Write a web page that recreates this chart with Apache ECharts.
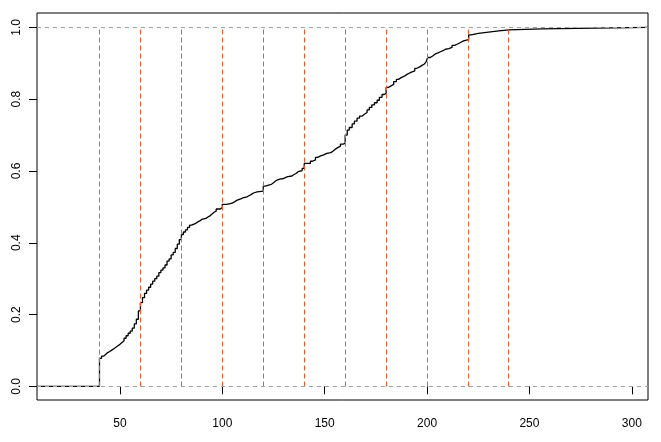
<!DOCTYPE html>
<html>
<head>
<meta charset="utf-8">
<script src="https://cdn.jsdelivr.net/npm/echarts@6/dist/echarts.min.js"></script>
<style>
html,body{margin:0;padding:0;background:#fff;}
#chart{width:661px;height:442px;}
</style>
</head>
<body>
<div id="chart"></div>
<script>
// ECDF step points (x, F(x))
var stepX = [40,41,42,43,44,45,46,47,48,49,50,51,52,53,54,55,56,57,58,59,
  60,61,62,63,64,65,66,67,68,69,70,71,72,73,74,75,76,77,78,79,
  80,81,82,83,84,85,87,88,89,90,92,93,94,95,96,97,99,
  100,102,104,105,106,107,109,110,112,113,114,115,116,117,
  120,121,123,124,125,126,127,128,130,131,132,134,135,136,137,139,
  140,143,144,145.5,146.6,148,149.5,151,153,154,155,156.4,157.7,159,
  160,161,162,163.4,164.5,165.8,167,168.3,169.4,170.7,171.8,173,174.3,175.6,176.7,178,179,
  180,181.3,182.4,183.7,185,186,187.4,188.9,190.2,191.5,192.7,194,195,196.4,197.5,198.7,199.5,
  200.3,201.6,202.9,204,205.4,206.5,207.8,209,210.6,212.2,213.5,214.6,216,217,218.2,
  220.3,221.5,225,230,235,240,256];
var stepF = [0.078,0.084,0.089,0.094,0.097,0.101,0.105,0.109,0.113,0.117,0.122,0.127,0.134,0.141,0.148,0.154,0.162,0.174,0.187,0.210,
  0.233,0.247,0.259,0.268,0.276,0.285,0.293,0.300,0.307,0.317,0.324,0.330,0.338,0.349,0.355,0.366,0.373,0.384,0.396,0.409,
  0.423,0.430,0.436,0.443,0.449,0.454,0.458,0.461,0.465,0.468,0.472,0.475,0.480,0.485,0.488,0.494,0.498,
  0.507,0.509,0.511,0.514,0.518,0.522,0.525,0.528,0.531,0.534,0.538,0.540,0.542,0.544,
  0.558,0.561,0.563,0.567,0.572,0.575,0.577,0.579,0.582,0.584,0.586,0.590,0.593,0.598,0.601,0.607,
  0.621,0.627,0.631,0.638,0.642,0.645,0.649,0.651,0.655,0.660,0.665,0.669,0.675,0.677,
  0.700,0.714,0.721,0.731,0.739,0.747,0.753,0.758,0.763,0.770,0.777,0.784,0.790,0.797,0.805,0.813,0.816,
  0.833,0.837,0.841,0.849,0.855,0.860,0.864,0.869,0.873,0.876,0.879,0.886,0.890,0.894,0.898,0.901,0.904,
  0.916,0.921,0.926,0.929,0.932,0.935,0.939,0.941,0.944,0.950,0.953,0.957,0.960,0.963,0.966,
  0.979,0.983,0.987,0.990,0.993,0.996,1.000];
var xTicks = [50,100,150,200,250,300];
var yTicks = [0,0.2,0.4,0.6,0.8,1.0];
var vLines = [40,60,80,100,120,140,160,180,200,220,240];
var hLines = [0,1];
var xRange = [9.487, 307.9];
var yRange = [-0.038, 1.040];

var data = [[xRange[0], 0]];
for (var i = 0; i < stepX.length; i++) data.push([stepX[i], stepF[i]]);
data.push([xRange[1], 1]);

function crisp(v) { return Math.floor(v) + 0.5; }

var font = 'Liberation Sans, Arial, Helvetica, sans-serif';
var chart = echarts.init(document.getElementById('chart'), null, {renderer: 'canvas'});
chart.setOption({
  animation: false,
  backgroundColor: '#fff',
  grid: {left: 37, top: 13, width: 611, height: 387, show: true, borderColor: '#000', borderWidth: 1, containLabel: false},
  xAxis: {
    type: 'value', min: xRange[0], max: xRange[1],
    axisLine: {show: false}, splitLine: {show: false},
    axisTick: {show: true, length: 8, customValues: xTicks, lineStyle: {color: '#000', width: 1}},
    axisLabel: {customValues: xTicks, margin: 18, color: '#000', fontSize: 12, fontFamily: font}
  },
  yAxis: {
    type: 'value', min: yRange[0], max: yRange[1],
    axisLine: {show: false}, splitLine: {show: false},
    axisTick: {show: true, length: 8, customValues: yTicks, lineStyle: {color: '#000', width: 1}},
    axisLabel: {customValues: yTicks, rotate: 90, margin: 14, color: '#000', fontSize: 12, fontFamily: font,
      formatter: function (v) { return v.toFixed(1); }}
  },
  series: [
    {
      type: 'line', step: 'end', data: data, showSymbol: false, symbol: 'none',
      lineStyle: {color: '#000', width: 1.3}, z: 2, silent: true
    },
    {
      type: 'custom', z: 3, silent: true,
      data: vLines.map(function (v) { return [v, 1]; }),
      encode: {x: 0, y: 1},
      renderItem: function (params, api) {
        var v = api.value(0);
        var p0 = api.coord([v, 0]);
        var p1 = api.coord([v, 1]);
        var x = crisp(p0[0]);
        return {type: 'line', shape: {x1: x, y1: crisp(p0[1]), x2: x, y2: crisp(p1[1]) + 2},
          style: {stroke: '#F05A28', lineWidth: 1, lineDash: [5, 3]}};
      }
    },
    {
      type: 'custom', z: 4, silent: true,
      data: hLines.map(function (h) { return [xRange[0], h]; }),
      encode: {x: 0, y: 1},
      renderItem: function (params, api) {
        var h = api.value(1);
        var p0 = api.coord([xRange[0], h]);
        var p1 = api.coord([xRange[1], h]);
        var y = crisp(p0[1]);
        return {type: 'line', shape: {x1: p0[0], y1: y, x2: p1[0], y2: y},
          style: {stroke: '#A0A4A4', lineWidth: 1, lineDash: [4, 4]}};
      }
    }
  ]
});
</script>
</body>
</html>
